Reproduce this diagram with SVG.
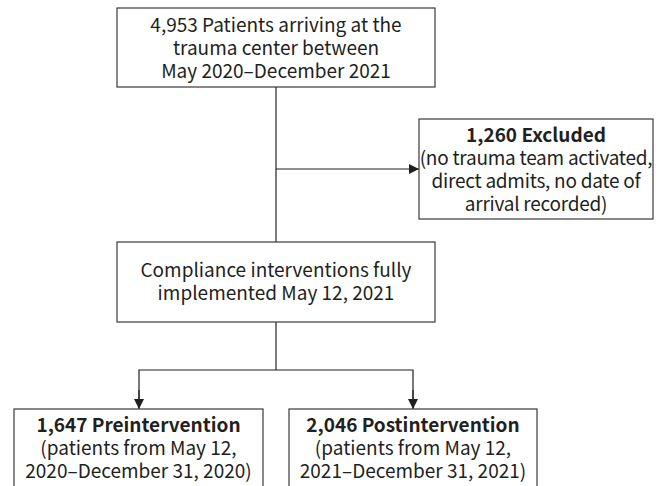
<svg xmlns="http://www.w3.org/2000/svg" width="667" height="486" viewBox="0 0 667 486">
<defs>
<marker id="arr" viewBox="0 0 10 10" refX="10" refY="5" markerWidth="10" markerHeight="10" markerUnits="userSpaceOnUse" orient="auto">
<path d="M0,0 L10,5 L0,10 Z" fill="#231f20"/>
</marker>
</defs>
<style>
.box{fill:#fff;stroke:#3a3a3a;stroke-width:1.2}
.t{font-family:"Noto Sans CJK SC","Noto Sans",sans-serif;font-size:19px;fill:#231f20;text-anchor:middle}
.b{font-weight:bold}
.n{letter-spacing:-0.25px}
.ln{fill:none;stroke:#231f20;stroke-width:1.2}
</style>
<rect width="667" height="486" fill="#fff"/>
<g id="connectors">
<line class="ln" x1="276" y1="87" x2="276" y2="242"/>
<line class="ln" x1="276" y1="169" x2="419" y2="169" marker-end="url(#arr)"/>
<line class="ln" x1="276" y1="322" x2="276" y2="370"/>
<polyline class="ln" points="139,408 139,370 413,370 413,408" />
<line class="ln" x1="139" y1="390" x2="139" y2="409" marker-end="url(#arr)"/>
<line class="ln" x1="413" y1="390" x2="413" y2="409" marker-end="url(#arr)"/>
</g>
<g id="n1">
<rect class="box" x="117" y="8" width="318" height="79"/>
<text class="t" x="276" y="32">4,953 Patients arriving at the</text>
<text class="t" x="276" y="55">trauma center between</text>
<text class="t" x="276" y="78">May 2020–December 2021</text>
</g>
<g id="n2">
<rect class="box" x="419" y="119" width="234" height="100"/>
<text class="t b" x="536" y="142">1,260 Excluded</text>
<text class="t n" x="536" y="165">(no trauma team activated,</text>
<text class="t n" x="536" y="188">direct admits, no date of</text>
<text class="t n" x="536" y="211">arrival recorded)</text>
</g>
<g id="n3">
<rect class="box" x="117" y="242" width="318" height="80"/>
<text class="t" x="276" y="277">Compliance interventions fully</text>
<text class="t" x="276" y="300">implemented May 12, 2021</text>
</g>
<g id="n4">
<rect class="box" x="14" y="409" width="249" height="90"/>
<text class="t b" x="138.5" y="432">1,647 Preintervention</text>
<text class="t" x="138.5" y="455">(patients from May 12,</text>
<text class="t" x="138.5" y="478">2020–December 31, 2020)</text>
</g>
<g id="n5">
<rect class="box" x="289" y="409" width="248" height="90"/>
<text class="t b" x="413" y="432">2,046 Postintervention</text>
<text class="t" x="413" y="455">(patients from May 12,</text>
<text class="t" x="413" y="478">2021–December 31, 2021)</text>
</g>
</svg>
